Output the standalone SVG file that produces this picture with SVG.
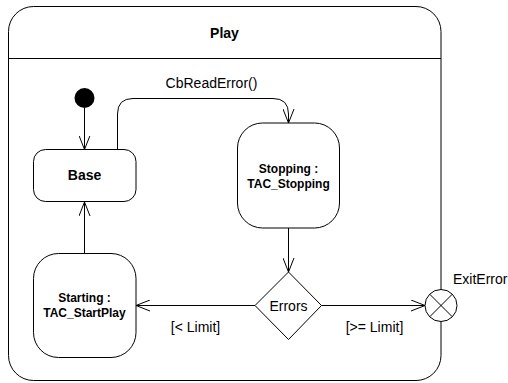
<svg xmlns="http://www.w3.org/2000/svg" width="508" height="383" viewBox="0 0 508 383">
<style>
.box{fill:#fff;stroke:#000;stroke-width:1}
.ln{fill:none;stroke:#000;stroke-width:1}
.b{font-family:"Liberation Sans",Arial,sans-serif;font-weight:bold;text-anchor:middle;fill:#000}
.t{font-family:"Liberation Sans",Arial,sans-serif;font-size:14px;fill:#000}
</style>
<defs>
<marker id="a" viewBox="0 0 14 12" refX="14" refY="6" markerWidth="14" markerHeight="12" markerUnits="userSpaceOnUse" orient="auto">
<path d="M0,0.5 L14,6 L0,11.5" fill="none" stroke="#000" stroke-width="1"/>
</marker>
</defs>
<rect width="508" height="383" fill="#fff"/>
<g id="Play">
<rect class="box" x="8.5" y="6.5" width="432.5" height="374" rx="25" ry="25"/>
<line class="ln" x1="8.5" y1="58.5" x2="441" y2="58.5"/>
<text class="b" x="224.5" y="37.5" font-size="14">Play</text>
</g>
<g id="connectors">
<line class="ln" x1="84.5" y1="108" x2="84.5" y2="149.5" marker-end="url(#a)"/>
<path class="ln" d="M117.5,149.5 V114 Q117.5,98.5 133,98.5 H273 Q288.5,98.5 288.5,114 V123" marker-end="url(#a)"/>
<line class="ln" x1="288.5" y1="228" x2="288.5" y2="272" marker-end="url(#a)"/>
<line class="ln" x1="255" y1="305.5" x2="136" y2="305.5" marker-end="url(#a)"/>
<line class="ln" x1="321.5" y1="305.5" x2="425" y2="305.5" marker-end="url(#a)"/>
<line class="ln" x1="84.5" y1="253" x2="84.5" y2="202" marker-end="url(#a)"/>
<text class="t" x="211.5" y="87.5" text-anchor="middle">CbReadError()</text>
<text class="t" x="195.5" y="332" text-anchor="middle">[&lt; Limit]</text>
<text class="t" x="374.5" y="332" text-anchor="middle">[&gt;= Limit]</text>
</g>
<g id="Initial">
<circle cx="84.5" cy="98" r="10" fill="#000"/>
</g>
<g id="Base">
<rect class="box" x="33.5" y="149.5" width="102.5" height="52" rx="12" ry="12"/>
<text class="b" x="84.5" y="180" font-size="14">Base</text>
</g>
<g id="Stopping">
<rect class="box" x="237.5" y="123" width="102" height="105" rx="25" ry="25"/>
<text class="b" x="288.5" y="172.5" font-size="12">Stopping :</text>
<text class="b" x="288.5" y="187.5" font-size="12">TAC_Stopping</text>
</g>
<g id="Starting">
<rect class="box" x="33.5" y="253.5" width="102.5" height="104" rx="25" ry="25"/>
<text class="b" x="84.5" y="301.5" font-size="12">Starting :</text>
<text class="b" x="84.5" y="317" font-size="12">TAC_StartPlay</text>
</g>
<g id="Errors">
<polygon class="box" points="288.5,272 321.5,305.5 288.5,339.5 255,305.5"/>
<text class="t" x="288.5" y="310.5" text-anchor="middle">Errors</text>
</g>
<g id="ExitError">
<circle class="box" cx="441" cy="305.5" r="16"/>
<line class="ln" x1="429.7" y1="294.2" x2="452.3" y2="316.8"/>
<line class="ln" x1="452.3" y1="294.2" x2="429.7" y2="316.8"/>
<text class="t" x="453" y="284">ExitError</text>
</g>
</svg>
